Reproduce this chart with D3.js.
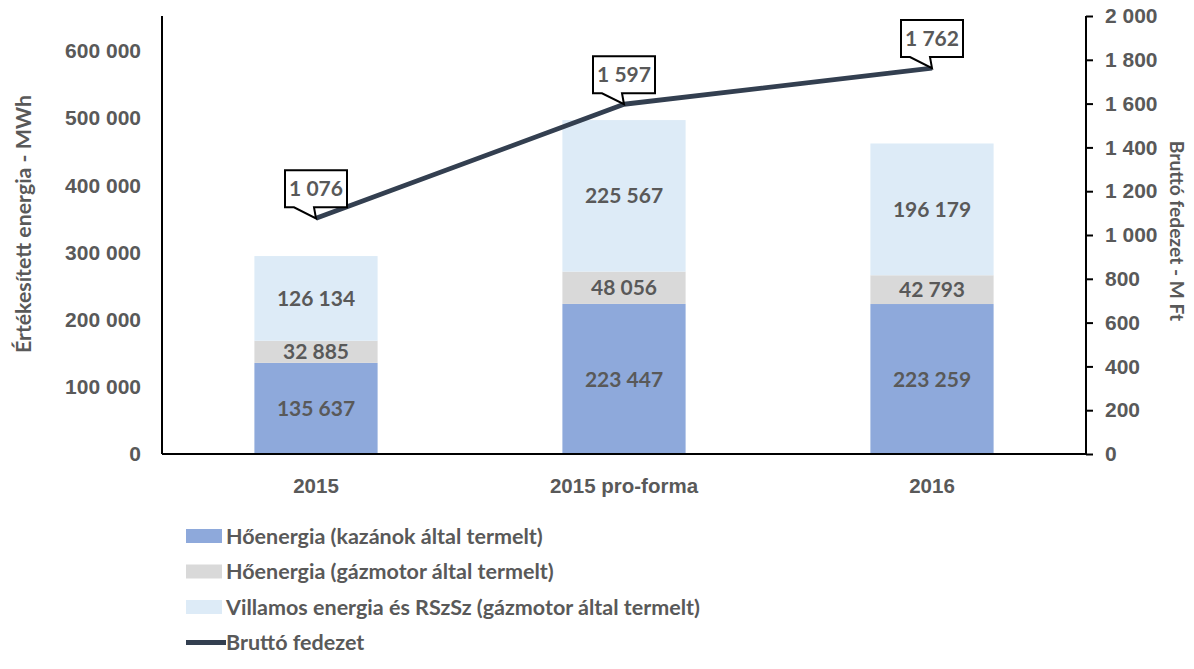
<!DOCTYPE html>
<html>
<head>
<meta charset="utf-8">
<script src="https://cdn.jsdelivr.net/npm/d3@7"></script>
<style>
  body { margin: 0; background: #fff; }
  svg { display: block; font-family: Lato, "Noto Sans", sans-serif; font-weight: bold; }
  .axis text { fill: #595959; font-size: 21px; }
</style>
</head>
<body>
<div id="chart"></div>
<script>
// Kategorien und Serien
const categories = ["2015", "2015 pro-forma", "2016"];
const boilerHeat = [135637, 223447, 223259];
const engineHeat = [32885, 48056, 42793];
const electricity = [126134, 225567, 196179];
const grossMargin = [1076, 1597, 1762];

const seriesNames = [
  "Hőenergia (kazánok által termelt)",
  "Hőenergia (gázmotor által termelt)",
  "Villamos energia és RSzSz (gázmotor által termelt)",
  "Bruttó fedezet"
];
const seriesColors = ["#8EA9DB", "#D9D9D9", "#DDEBF7", "#333F50"];

const leftTicks = [0, 100000, 200000, 300000, 400000, 500000, 600000];
const rightTicks = [0, 200, 400, 600, 800, 1000, 1200, 1400, 1600, 1800, 2000];

const width = 1194, height = 669;
const margin = { top: 16, right: 108, bottom: 215, left: 162 };

const svg = d3.select("#chart")
  .append("svg")
  .attr("width", width)
  .attr("height", height);

// Zahlen mit Leerzeichen als Tausendertrennzeichen
const fmt = d3.formatLocale({ decimal: ",", thousands: " ", grouping: [3], currency: ["", ""] }).format(",d");

const xScale = d3.scaleBand()
  .domain(categories)
  .range([margin.left, width - margin.right]);

const yLeft = d3.scaleLinear()
  .domain([0, 652000])
  .range([height - margin.bottom, margin.top]);

const yRight = d3.scaleLinear()
  .domain([0, 2000])
  .range([height - margin.bottom, margin.top]);

const barWidth = xScale.bandwidth() * 0.4;

// Stapel bauen
const rows = categories.map((c, i) => ({
  cat: c, s0: boilerHeat[i], s1: engineHeat[i], s2: electricity[i]
}));
const stacked = d3.stack().keys(["s0", "s1", "s2"])(rows);

const layers = svg.selectAll("g.layer")
  .data(stacked)
  .join("g")
  .attr("class", "layer")
  .attr("fill", (d, i) => seriesColors[i]);

layers.selectAll("rect")
  .data(d => d)
  .join("rect")
  .attr("x", d => xScale(d.data.cat) + (xScale.bandwidth() - barWidth) / 2)
  .attr("y", d => yLeft(d[1]))
  .attr("width", barWidth)
  .attr("height", d => yLeft(d[0]) - yLeft(d[1]));

layers.selectAll("text")
  .data(d => d)
  .join("text")
  .attr("x", d => xScale(d.data.cat) + xScale.bandwidth() / 2)
  .attr("y", d => (yLeft(d[0]) + yLeft(d[1])) / 2)
  .attr("dy", "0.36em")
  .attr("text-anchor", "middle")
  .style("fill", "#595959")
  .style("font-size", "21px")
  .text(d => fmt(d[1] - d[0]));

// Achsen
svg.append("g")
  .attr("class", "axis")
  .attr("transform", `translate(${margin.left},0)`)
  .call(d3.axisLeft(yLeft).tickValues(leftTicks).tickSize(0).tickPadding(21).tickFormat(fmt))
  .call(g => g.select(".domain").remove());

svg.append("g")
  .attr("class", "axis")
  .attr("transform", `translate(${width - margin.right},0)`)
  .call(d3.axisRight(yRight).tickValues(rightTicks).tickSize(7).tickPadding(12).tickFormat(fmt))
  .call(g => g.select(".domain").remove())
  .call(g => g.selectAll("line").attr("stroke", "#000").attr("stroke-width", 2));

svg.append("g")
  .attr("class", "axis")
  .attr("transform", `translate(0,${height - margin.bottom})`)
  .call(d3.axisBottom(xScale).tickSize(0).tickPadding(24))
  .call(g => g.select(".domain").remove())
  .call(g => g.selectAll("text").style("font-size", "20.5px"));

// Achsenlinien
svg.append("line")
  .attr("x1", margin.left).attr("x2", margin.left)
  .attr("y1", margin.top).attr("y2", height - margin.bottom)
  .attr("stroke", "#000").attr("stroke-width", 2);
svg.append("line")
  .attr("x1", width - margin.right).attr("x2", width - margin.right)
  .attr("y1", margin.top).attr("y2", height - margin.bottom)
  .attr("stroke", "#000").attr("stroke-width", 2);
svg.append("line")
  .attr("x1", margin.left).attr("x2", width - margin.right)
  .attr("y1", height - margin.bottom).attr("y2", height - margin.bottom)
  .attr("stroke", "#000").attr("stroke-width", 2);

// Achsentitel
svg.append("text")
  .attr("transform", "translate(31,224) rotate(-90)")
  .attr("text-anchor", "middle")
  .style("fill", "#595959")
  .style("font-size", "21.3px")
  .text("Értékesített energia - MWh");

svg.append("text")
  .attr("transform", "translate(1170,231) rotate(90)")
  .attr("text-anchor", "middle")
  .style("fill", "#595959")
  .style("font-size", "19.2px")
  .text("Bruttó fedezet - M Ft");

// Linie
const lineGen = d3.line()
  .x((d, i) => xScale(categories[i]) + xScale.bandwidth() / 2)
  .y(d => yRight(d));

svg.append("path")
  .datum(grossMargin)
  .attr("d", lineGen)
  .attr("fill", "none")
  .attr("stroke", seriesColors[3])
  .attr("stroke-width", 4.8)
  .attr("stroke-linejoin", "round");

// Callouts
const callout = svg.selectAll("g.callout")
  .data(grossMargin)
  .join("g")
  .attr("class", "callout")
  .attr("transform", (d, i) => `translate(${xScale(categories[i]) + xScale.bandwidth() / 2},${yRight(d)})`);

callout.append("path")
  .attr("d", "M-31,-48 H31 V-11 H-2 L0,0 L-22,-11 H-31 Z")
  .attr("fill", "#fff")
  .attr("stroke", "#000")
  .attr("stroke-width", 2);

callout.append("text")
  .attr("y", -22)
  .attr("text-anchor", "middle")
  .style("fill", "#595959")
  .style("font-size", "21px")
  .text(d => fmt(d));

// Legende
const legend = svg.append("g")
  .attr("transform", "translate(186,536)");

const legendItems = legend.selectAll("g")
  .data(seriesNames)
  .join("g")
  .attr("transform", (d, i) => `translate(0,${i * 35.5})`);

legendItems.filter((d, i) => i < 3)
  .append("rect")
  .attr("x", 0).attr("y", -7)
  .attr("width", 36).attr("height", 14)
  .attr("fill", (d, i) => seriesColors[i]);

legendItems.filter((d, i) => i === 3)
  .append("line")
  .attr("x1", 0).attr("x2", 40)
  .attr("stroke", seriesColors[3])
  .attr("stroke-width", 4.8);

legendItems.append("text")
  .attr("x", 40)
  .attr("dy", "0.36em")
  .style("fill", "#595959")
  .style("font-size", "21.5px")
  .text(d => d);
</script>
</body>
</html>
